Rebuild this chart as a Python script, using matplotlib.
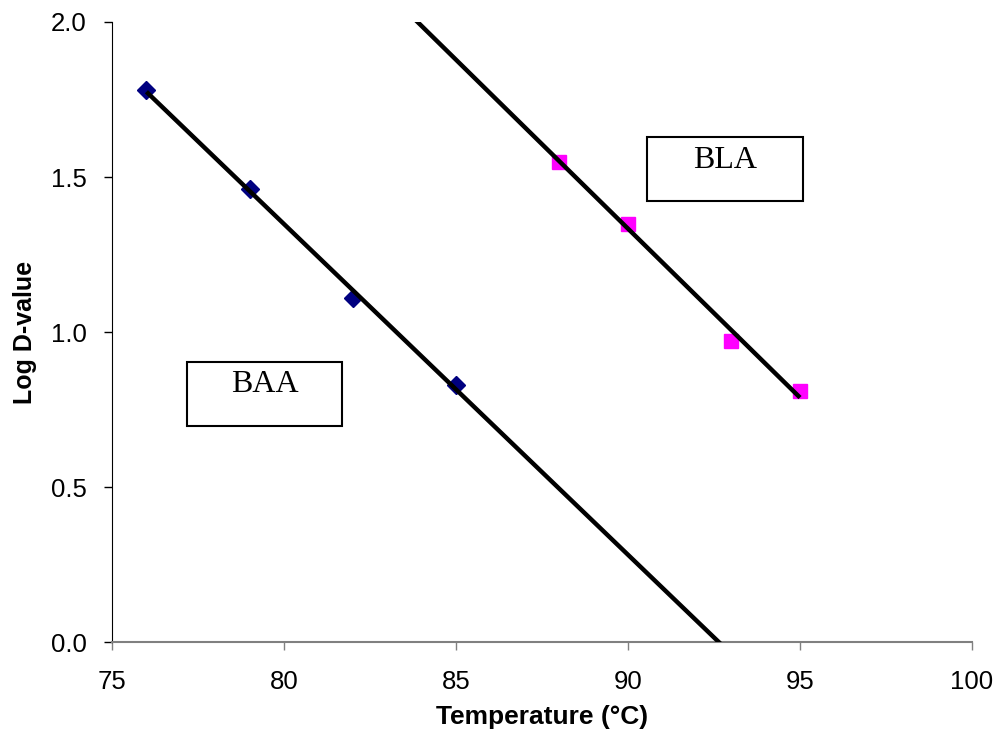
import matplotlib
matplotlib.use('Agg')
import matplotlib.pyplot as plt
import numpy as np
from matplotlib.patches import Rectangle
from matplotlib.ticker import FormatStrFormatter

plt.rcParams['font.family'] = ['Liberation Sans', 'DejaVu Sans']

# BAA and BLA measurements
baa_temp = [76, 79, 82, 85]
baa_logd = [1.78, 1.46, 1.11, 0.83]
bla_temp = [88, 90, 93, 95]
bla_logd = [1.55, 1.35, 0.97, 0.81]

# trendline spans (Excel-style forecast, clipped by the axes)
baa_fit_span = [76, 95]
bla_fit_span = [80, 95]

x_ticks = [75, 80, 85, 90, 95, 100]
y_ticks = [0.0, 0.5, 1.0, 1.5, 2.0]

fig = plt.figure(figsize=(10, 7.33), dpi=100)
ax = fig.add_axes([0.112, 0.124, 0.860, 0.846])
ax.set_facecolor('white')

ax.plot(baa_temp, baa_logd, linestyle='none', marker='D', markersize=9.5,
        color='#000080', zorder=2)
ax.plot(bla_temp, bla_logd, linestyle='none', marker='s', markersize=9.5,
        color='#FF00FF', zorder=2)

# linear trendlines
for xs, ys, span in [(baa_temp, baa_logd, baa_fit_span),
                     (bla_temp, bla_logd, bla_fit_span)]:
    k, b = np.polyfit(xs, ys, 1)
    xx = np.array(span, dtype=float)
    ax.plot(xx, k * xx + b, color='black', linewidth=3.2, zorder=3,
            solid_capstyle='butt')

ax.set_xlim(75, 100)
ax.set_ylim(0, 2.0)
ax.set_xticks(x_ticks)
ax.set_yticks(y_ticks)
ax.yaxis.set_major_formatter(FormatStrFormatter('%.1f'))

ax.spines['top'].set_visible(False)
ax.spines['right'].set_visible(False)
ax.spines['left'].set_color('black')
ax.spines['bottom'].set_color('#808080')
ax.spines['bottom'].set_linewidth(1.5)
ax.tick_params(axis='x', colors='#808080', labelcolor='black', length=6,
               width=1, labelsize=18.5, pad=14)
ax.tick_params(axis='y', colors='black', length=6, width=1, labelsize=18.5, pad=12)

ax.set_xlabel('Temperature (°C)', fontsize=19, fontweight='bold', labelpad=8)
ax.set_ylabel('Log D-value', fontsize=18, fontweight='bold', labelpad=10)

# text boxes
for x0, y0, tx, ty, label in [(0.087, 0.348, 0.178, 0.415, 'BAA'),
                              (0.622, 0.711, 0.713, 0.777, 'BLA')]:
    ax.add_patch(Rectangle((x0, y0), 0.181, 0.104, transform=ax.transAxes,
                           facecolor='white', edgecolor='black',
                           linewidth=1.5, zorder=4))
    ax.text(tx, ty, label, transform=ax.transAxes, ha='center', va='center',
            fontsize=23, family=['Liberation Serif', 'DejaVu Serif'], zorder=5)

fig.savefig('out.png', dpi=100)
